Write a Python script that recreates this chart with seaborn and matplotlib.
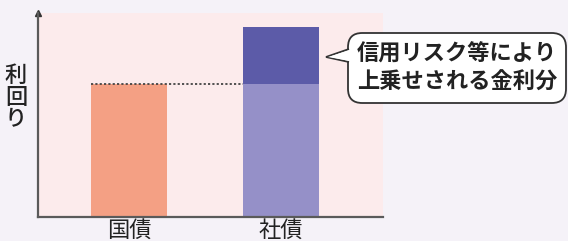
import numpy as np
import pandas as pd
import matplotlib.pyplot as plt
import seaborn as sns
from matplotlib.patches import FancyBboxPatch, Polygon

# データ
categories = ["国債", "社債"]
base_yield = [6.5, 6.5]      # 国債並みの利回り
extra_yield = [0.0, 2.8]     # 信用リスク等による上乗せ分
callout_text = "信用リスク等により\n上乗せされる金利分"
ylabel = "利回り"

base_colors = ["#F4A084", "#9590C8"]
top_colors = ["#F4A084", "#5C5BA8"]

sns.set_theme(style="white")
plt.rcParams['font.family'] = ['Noto Sans CJK JP', 'DejaVu Sans']

df = pd.DataFrame({"cat": categories, "base": base_yield,
                   "total": np.add(base_yield, extra_yield)})

fig = plt.figure(figsize=(5.68, 2.41), dpi=100, facecolor="#F5F2F8")
ax = fig.add_axes([38 / 568, 24 / 241, 345 / 568, 204 / 241])
ax.set_facecolor("#FCEBEC")

bar_w = 0.5
sns.barplot(data=df, x="cat", y="total", hue="cat", palette=dict(zip(categories, top_colors)),
            width=bar_w, legend=False, ax=ax, saturation=1, linewidth=0, edgecolor="none")
sns.barplot(data=df, x="cat", y="base", hue="cat", palette=dict(zip(categories, base_colors)),
            width=bar_w, legend=False, ax=ax, saturation=1, linewidth=0, edgecolor="none")

# 国債の高さの点線
ax.hlines(base_yield[0], 0 - bar_w / 2, 1 - bar_w / 2, colors="#444444",
          linestyles=(0, (1.2, 1.2)), lw=1.3, zorder=5)

ax.set_xlim(-0.599, 1.671)
ax.set_ylim(0, 10)
ax.set_yticks([])
ax.set_xlabel("")
ax.set_ylabel("")
ax.tick_params(axis="x", length=0, pad=1.5, labelsize=16, labelcolor="#222222")

for s in ["top", "right"]:
    ax.spines[s].set_visible(False)
for s in ["left", "bottom"]:
    ax.spines[s].set_color("#5A5A5A")
    ax.spines[s].set_linewidth(1.6)

# y軸の矢印
ax.plot(0, 1.0, marker="^", color="#333333", markersize=5,
        transform=ax.transAxes, clip_on=False)

# 縦書きの「利回り」
fig.text(16 / 568, 1 - 98 / 241, "\n".join(ylabel), ha="center", va="center",
         fontsize=16, fontweight="medium", linespacing=0.95, color="#222222")

# 吹き出し
W, H = 568, 241
box = FancyBboxPatch((348 / W, 1 - 103 / H), 218 / W, 70 / H,
                     boxstyle="round,pad=0,rounding_size=0.025",
                     transform=fig.transFigure, facecolor="white",
                     edgecolor="#333333", lw=1.3, mutation_aspect=W / H)
fig.patches.append(box)
tri = Polygon([(349 / W, 1 - 49 / H), (326 / W, 1 - 57 / H), (349 / W, 1 - 62 / H)],
              closed=False, transform=fig.transFigure, facecolor="white",
              edgecolor="#333333", lw=1.3)
fig.patches.append(tri)
fig.patches.append(Polygon([(350 / W, 1 - 50 / H), (328 / W, 1 - 57 / H), (350 / W, 1 - 61 / H)],
                           closed=True, transform=fig.transFigure, facecolor="white",
                           edgecolor="none"))
fig.text(457 / W, 1 - 68 / H, callout_text, ha="center", va="center",
         fontsize=16, fontweight="bold", linespacing=1.3, color="#222222")

fig.savefig("out.png", dpi=100, facecolor=fig.get_facecolor())
